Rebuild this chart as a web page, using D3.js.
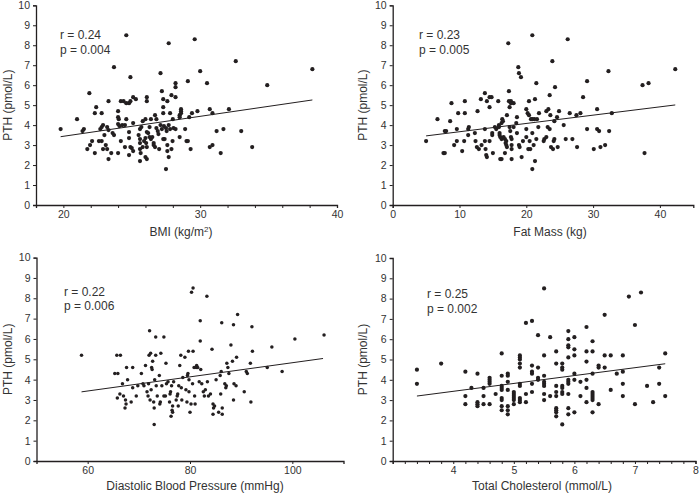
<!DOCTYPE html>
<html>
<head>
<meta charset="utf-8">
<script src="https://cdn.jsdelivr.net/npm/d3@7"></script>
<style>
  html, body { margin: 0; padding: 0; background: #fff; }
  svg { display: block; font-family: "Liberation Sans", Arial, Helvetica, sans-serif; }
</style>
</head>
<body>
<svg id="chart" width="700" height="495"></svg>
<script>
// ---------------- DATA ----------------
const yTickValues = [0,1,2,3,4,5,6,7,8,9,10];

const bmiData = [[19.8,3.8],[21.0,4.3],[21.4,3.7],[21.5,3.8],[21.9,5.6],[21.75,2.8],[21.95,3.0],[22.1,3.2],[22.3,2.6],[22.4,4.9],[22.3,4.6],[22.8,4.6],[22.7,3.8],[22.8,3.9],[22.9,4.0],[22.6,3.2],[22.8,3.2],[22.9,2.8],[23.0,3.5],[23.1,3.0],[23.2,2.8],[23.3,2.3],[23.2,3.9],[23.3,3.75],[23.3,5.2],[23.5,2.6],[23.6,3.6],[23.7,3.5],[23.7,6.9],[24.0,4.7],[24.0,4.4],[24.05,4.3],[24.0,4.05],[24.1,3.95],[24.0,2.6],[24.2,3.2],[24.2,5.2],[24.3,4.0],[24.4,5.2],[24.5,4.0],[24.5,2.9],[24.6,4.3],[24.6,5.1],[24.6,8.5],[24.8,5.1],[24.8,3.65],[24.8,3.35],[24.8,2.5],[24.9,5.2],[24.9,6.4],[24.9,2.9],[25.0,2.85],[25.1,2.7],[25.1,4.1],[25.1,5.4],[25.3,5.3],[25.5,3.5],[25.6,3.3],[25.6,3.1],[25.6,2.8],[25.65,2.6],[25.6,2.2],[25.6,3.8],[25.7,3.9],[25.8,4.2],[25.8,2.9],[25.9,3.2],[26.0,3.35],[26.05,3.1],[26.1,2.9],[26.0,2.4],[26.1,2.3],[26.0,4.3],[26.1,5.4],[26.1,5.2],[26.1,3.65],[26.2,3.6],[26.3,3.9],[26.3,3.4],[26.4,3.3],[26.5,3.4],[26.6,3.1],[26.6,3.0],[26.7,2.9],[26.4,4.3],[26.7,4.5],[26.8,4.3],[26.8,3.85],[26.9,3.7],[26.95,3.55],[27.0,2.8],[27.1,6.6],[27.2,5.7],[27.3,5.3],[27.3,4.9],[27.3,4.6],[27.1,4.0],[27.2,3.8],[27.3,3.3],[27.4,3.3],[27.35,3.95],[27.5,3.85],[27.55,3.7],[27.6,3.0],[27.6,2.7],[27.7,2.4],[27.5,1.8],[27.6,5.2],[27.7,8.1],[27.7,4.0],[27.8,3.8],[27.8,4.6],[27.9,5.5],[27.9,2.8],[27.98,3.2],[28.0,4.3],[28.05,3.85],[28.2,3.8],[28.2,5.4],[28.2,6.1],[28.2,5.9],[28.5,4.4],[28.5,4.5],[28.5,3.4],[28.6,4.8],[28.6,4.7],[28.6,4.6],[28.9,3.8],[29.0,3.2],[29.1,3.2],[29.1,6.2],[29.2,4.4],[29.3,2.8],[29.4,4.6],[29.6,8.3],[29.8,4.7],[30.0,6.7],[30.5,6.1],[30.7,4.8],[30.7,2.9],[30.9,4.6],[30.9,3.0],[31.2,3.7],[31.5,2.6],[31.7,3.8],[32.1,4.8],[32.6,7.2],[33.0,3.7],[33.8,2.9],[34.9,6.0],[38.2,6.8]];
const bmiTrend = [[19.8,3.42],[38.2,5.26]];
const bmiTicks = [18,20,22,24,26,28,30,32,34,36,38,40];
const bmiTickLabels = [20,30,40];

const fatData = [[5.0,3.2],[6.7,4.3],[7.6,2.6],[7.8,2.6],[7.8,3.7],[8.0,3.7],[8.6,4.2],[8.8,5.1],[9.2,3.0],[9.6,3.8],[9.6,3.2],[9.8,4.6],[10.4,2.7],[10.7,3.2],[10.8,4.6],[10.8,5.2],[11.3,3.8],[11.4,3.9],[11.3,3.5],[12.3,3.6],[12.4,3.2],[12.7,4.7],[12.6,2.9],[12.9,2.8],[13.2,5.3],[13.3,3.0],[13.8,5.6],[14.1,5.2],[14.0,2.5],[13.8,3.8],[13.8,3.2],[13.9,2.8],[14.1,2.4],[14.5,5.4],[14.8,5.4],[14.5,4.9],[14.5,3.2],[14.9,3.6],[14.9,3.5],[15.0,2.6],[15.3,3.9],[15.5,3.8],[15.8,5.2],[15.9,4.0],[15.9,3.9],[16.0,3.6],[16.0,3.5],[16.1,3.4],[16.3,3.3],[16.1,2.3],[16.3,2.3],[16.4,4.3],[16.5,4.2],[16.3,4.1],[16.6,3.4],[16.8,3.3],[16.9,3.1],[17.0,3.2],[17.0,3.0],[17.1,2.9],[16.8,2.6],[17.1,4.5],[17.3,8.1],[17.4,5.7],[17.4,5.2],[17.7,5.2],[17.5,4.9],[17.7,5.1],[17.5,3.9],[17.6,3.7],[17.7,3.4],[17.8,3.3],[17.8,2.8],[17.8,3.0],[17.8,2.3],[18.1,5.1],[18.1,3.9],[18.5,4.1],[18.6,4.4],[18.6,3.6],[18.8,6.9],[18.9,6.6],[19.2,6.4],[18.9,3.0],[19.0,2.9],[19.3,2.4],[19.5,3.2],[20.0,3.8],[20.0,3.4],[20.0,4.8],[20.2,4.6],[20.4,4.5],[20.3,2.8],[20.6,2.8],[20.4,5.2],[20.5,3.2],[20.9,8.5],[20.9,1.8],[20.7,4.3],[20.9,4.3],[21.2,4.3],[20.9,3.6],[21.1,3.0],[21.3,2.2],[21.3,5.3],[21.5,6.1],[21.5,3.3],[21.6,4.3],[21.8,3.9],[21.9,4.6],[22.6,3.2],[22.7,3.3],[23.0,3.4],[23.0,4.7],[23.2,3.9],[23.5,3.8],[23.3,4.8],[23.5,5.5],[23.6,4.5],[23.7,2.9],[24.0,2.8],[23.9,7.2],[24.1,3.2],[24.2,3.3],[24.2,4.2],[24.3,5.9],[24.6,4.4],[24.7,2.9],[24.9,4.7],[25.6,4.0],[25.9,3.3],[26.2,8.3],[26.5,4.6],[26.9,3.3],[27.5,4.5],[27.6,2.9],[28.1,4.6],[28.5,5.4],[29.1,6.2],[29.1,3.8],[30.1,2.8],[30.6,4.8],[30.6,3.8],[30.9,3.7],[31.1,2.9],[31.8,3.0],[32.3,6.7],[32.4,3.7],[32.8,4.6],[37.4,6.0],[37.7,2.6],[38.3,6.1],[42.3,6.8]];
const fatTrend = [[5.0,3.46],[42.3,5.01]];
const fatTicks = [0,10,20,30,40];
const fatTickLabels = [0,10,20,30,40];

const dbpData = [[58.8,5.2],[65.3,4.3],[65.9,4.3],[65.7,5.2],[66.4,5.2],[65.8,3.1],[66.3,3.3],[66.8,3.8],[67.0,3.2],[67.3,2.6],[67.5,2.8],[67.4,3.0],[67.6,4.6],[67.8,4.0],[68.5,2.9],[68.8,3.6],[68.8,4.6],[69.5,3.2],[69.8,3.7],[70.5,4.3],[70.8,3.8],[71.0,3.7],[71.3,4.7],[71.6,3.4],[71.8,3.2],[71.9,3.8],[72.0,5.2],[72.1,6.4],[72.3,5.3],[72.2,3.0],[72.4,3.5],[72.5,4.6],[72.6,4.5],[72.7,4.9],[72.9,2.9],[73.0,1.8],[73.0,2.6],[73.1,4.0],[73.3,5.2],[73.3,6.1],[73.4,3.7],[73.6,3.2],[74.0,4.2],[74.1,2.8],[74.2,2.9],[74.3,5.3],[74.5,3.7],[74.9,6.1],[74.9,3.2],[75.2,3.2],[75.3,4.8],[75.4,3.8],[75.7,3.9],[76.0,2.9],[76.1,3.3],[76.2,3.4],[76.3,2.2],[76.4,3.7],[76.5,2.5],[76.6,2.7],[76.6,2.4],[76.8,3.9],[77.3,3.0],[77.5,3.2],[77.6,3.3],[77.7,2.7],[77.8,3.7],[78.0,4.7],[78.2,5.2],[78.3,3.6],[78.4,3.0],[78.6,4.1],[79.0,5.1],[79.2,3.5],[79.4,2.9],[79.5,4.2],[79.6,4.3],[79.7,5.4],[79.8,3.4],[79.8,4.0],[80.0,2.4],[80.2,2.8],[80.3,8.3],[80.6,8.5],[80.5,3.8],[80.6,5.4],[80.8,4.6],[80.9,3.2],[81.0,2.8],[81.2,4.6],[81.3,4.7],[81.5,4.6],[81.8,3.9],[82.0,6.9],[82.0,5.9],[82.1,4.5],[82.3,3.8],[82.6,3.4],[82.8,3.2],[83.0,3.5],[83.3,8.1],[83.4,3.9],[83.6,3.2],[84.0,3.3],[84.3,5.5],[84.5,2.3],[84.5,2.8],[84.6,2.6],[84.8,2.7],[85.1,4.0],[85.6,2.4],[85.9,4.2],[86.0,3.3],[86.1,4.4],[86.2,6.8],[86.3,2.3],[86.3,2.6],[86.8,3.8],[87.0,3.6],[87.1,3.7],[87.2,4.8],[87.4,4.6],[87.6,4.3],[88.0,5.7],[88.3,4.9],[88.5,6.7],[88.5,3.0],[88.6,3.8],[89.0,3.7],[89.1,5.1],[89.3,7.2],[90.6,3.4],[91.0,4.4],[91.2,4.3],[91.8,4.8],[91.9,2.9],[92.1,6.6],[92.2,5.4],[95.1,4.6],[96.0,5.6],[98.0,4.4],[100.5,6.0],[106.2,6.2]];
const dbpTrend = [[58.8,3.4],[106.0,5.04]];
const dbpTicks = [60,80,100];
const dbpTickLabels = [60,80,100];

const cholData = [[3.4,4.5],[3.4,3.8],[3.8,4.8],[4.2,4.4],[4.2,3.2],[4.2,2.8],[4.3,3.6],[4.4,4.3],[4.4,2.9],[4.4,2.8],[4.4,2.7],[4.5,3.6],[4.5,3.2],[4.5,2.8],[4.6,4.1],[4.6,4.0],[4.6,3.9],[4.6,3.8],[4.6,2.8],[4.7,3.3],[4.8,5.3],[4.8,4.2],[4.8,3.7],[4.8,3.6],[4.8,3.5],[4.8,3.1],[4.8,3.0],[4.8,2.7],[4.8,2.5],[4.9,4.3],[4.9,4.2],[4.9,3.9],[4.9,3.5],[4.9,2.7],[4.9,2.5],[4.9,2.3],[5.0,3.4],[5.0,3.3],[5.0,3.2],[5.0,3.1],[5.0,3.0],[5.0,2.8],[5.1,5.2],[5.1,5.1],[5.1,5.0],[5.1,4.8],[5.1,4.6],[5.1,3.8],[5.1,3.7],[5.1,3.1],[5.1,3.0],[5.1,2.9],[5.2,6.8],[5.2,3.3],[5.2,2.9],[5.3,6.9],[5.3,4.7],[5.3,4.4],[5.3,4.3],[5.3,3.8],[5.3,3.4],[5.4,6.2],[5.4,4.6],[5.4,4.1],[5.4,4.0],[5.5,8.5],[5.5,5.2],[5.5,4.2],[5.5,3.9],[5.5,3.8],[5.5,3.7],[5.5,3.3],[5.5,3.0],[5.6,6.1],[5.6,3.2],[5.7,5.4],[5.7,4.8],[5.7,3.7],[5.7,3.4],[5.7,3.2],[5.7,2.6],[5.7,2.5],[5.7,2.4],[5.7,2.2],[5.8,4.8],[5.8,4.6],[5.8,4.5],[5.8,3.7],[5.8,3.6],[5.8,3.4],[5.8,3.3],[5.8,1.8],[5.9,6.4],[5.9,6.0],[5.9,5.7],[5.9,5.6],[5.9,5.1],[5.9,4.0],[5.9,3.9],[5.9,3.8],[5.9,3.3],[5.9,2.6],[5.9,2.3],[6.0,6.1],[6.0,5.5],[6.0,5.2],[6.0,4.3],[6.0,4.0],[6.0,2.4],[6.1,3.9],[6.1,3.2],[6.2,6.6],[6.2,5.4],[6.2,4.9],[6.2,4.0],[6.2,3.6],[6.2,2.9],[6.3,5.9],[6.3,5.4],[6.3,4.3],[6.3,3.4],[6.3,3.3],[6.3,3.2],[6.3,3.1],[6.3,3.0],[6.3,2.4],[6.4,4.7],[6.4,4.6],[6.4,2.8],[6.5,7.2],[6.5,5.2],[6.5,4.6],[6.6,3.5],[6.6,5.2],[6.7,4.3],[6.8,5.2],[6.8,4.4],[6.8,3.8],[6.8,3.2],[6.9,8.1],[7.0,6.7],[7.0,2.8],[7.1,8.3],[7.2,3.7],[7.3,2.9],[7.4,4.6],[7.4,3.8],[7.5,5.3],[7.5,3.2]];
const cholTrend = [[3.4,3.2],[7.5,4.79]];
const cholTicks = d3.range(15, 41).map(i => i / 5);
const cholTickLabels = [4,5,6,7,8];

const statsText = [["r = 0.24","p = 0.004"],["r = 0.23","p = 0.005"],["r = 0.22","p = 0.006"],["r = 0.25","p = 0.002"]];
const xTitles = ["BMI (kg/m", "Fat Mass (kg)", "Diastolic Blood Pressure (mmHg)", "Total Cholesterol (mmol/L)"];
const yTitle = "PTH (pmol/L)";

// ---------------- LAYOUT ----------------
const ink = "#231f20";
const svg = d3.select("#chart");

const panels = [
  { data: bmiData, trend: bmiTrend, domain: [18,40], ticks: bmiTicks, labels: bmiTickLabels,
    xr: [36, 337], yr: [205, 5.3], stats: statsText[0], title: xTitles[0], sup: true,
    titleX: 181, titleY: 236, statX: 60, statY: 39, yTitleX: 12, r: 2.1 },
  { data: fatData, trend: fatTrend, domain: [0,45], ticks: fatTicks, labels: fatTickLabels,
    xr: [392.7, 693.3], yr: [205, 5.3], stats: statsText[1], title: xTitles[1],
    titleX: 550, titleY: 236, statX: 419, statY: 39, yTitleX: 367, r: 2.1 },
  { data: dbpData, trend: dbpTrend, domain: [50,110], ticks: dbpTicks, labels: dbpTickLabels,
    xr: [36.5, 343.5], yr: [461, 257.6], stats: statsText[2], title: xTitles[2],
    titleX: 195, titleY: 490, statX: 64, statY: 295.5, yTitleX: 12, r: 1.75 },
  { data: cholData, trend: cholTrend, domain: [3,8], ticks: cholTicks, labels: cholTickLabels,
    xr: [392.7, 695.5], yr: [461, 258], stats: statsText[3], title: xTitles[3],
    titleX: 542, titleY: 490, statX: 427, statY: 298, yTitleX: 367, r: 2.1 }
];

panels.forEach(p => {
  const x = d3.scaleLinear().domain(p.domain).range(p.xr);
  const y = d3.scaleLinear().domain([0,10]).range(p.yr);
  const g = svg.append("g");

  // x axis
  const xa = g.append("g").attr("transform", `translate(0,${p.yr[0]})`)
    .call(d3.axisBottom(x).tickValues(p.ticks).tickSizeOuter(0).tickSize(3).tickPadding(3)
      .tickFormat(d => p.labels.some(l => Math.abs(l - d) < 1e-9) ? d3.format("d")(d) : ""));
  // y axis
  const ya = g.append("g").attr("transform", `translate(${p.xr[0]},0)`)
    .call(d3.axisLeft(y).tickValues(yTickValues).tickSizeOuter(0).tickSize(3).tickPadding(3));
  [xa, ya].forEach(a => {
    a.select(".domain").attr("stroke", ink).attr("stroke-width", 1.3);
    a.selectAll(".tick line").attr("stroke", ink).attr("stroke-width", 1);
    a.selectAll(".tick text").attr("fill", "#333").style("font-size", "10.5px")
      .style("font-family", '"Liberation Sans", Arial, sans-serif');
  });

  // trend line
  g.append("line")
    .attr("x1", x(p.trend[0][0])).attr("y1", y(p.trend[0][1]))
    .attr("x2", x(p.trend[1][0])).attr("y2", y(p.trend[1][1]))
    .attr("stroke", ink).attr("stroke-width", 1);

  // points
  g.selectAll("circle").data(p.data).join("circle")
    .attr("cx", d => x(d[0])).attr("cy", d => y(d[1])).attr("r", p.r)
    .attr("fill", ink);

  // stats text
  g.append("text").attr("x", p.statX).attr("y", p.statY)
    .attr("fill", "#333").style("font-size", "12px").text(p.stats[0]);
  g.append("text").attr("x", p.statX).attr("y", p.statY + 14.5)
    .attr("fill", "#333").style("font-size", "12px").text(p.stats[1]);

  // x title
  const xt = g.append("text").attr("x", p.titleX).attr("y", p.titleY)
    .attr("text-anchor", "middle").attr("fill", "#333").style("font-size", "12px");
  if (p.sup) {
    xt.append("tspan").text(p.title);
    xt.append("tspan").attr("dy", -4.5).style("font-size", "8px").text("2");
    xt.append("tspan").attr("dy", 4.5).text(")");
  } else {
    xt.text(p.title);
  }

  // y title
  const ymid = (p.yr[0] + p.yr[1]) / 2;
  g.append("text")
    .attr("transform", `translate(${p.yTitleX},${ymid}) rotate(-90)`)
    .attr("text-anchor", "middle").attr("fill", "#333").style("font-size", "12px")
    .text(yTitle);
});
</script>
</body>
</html>
